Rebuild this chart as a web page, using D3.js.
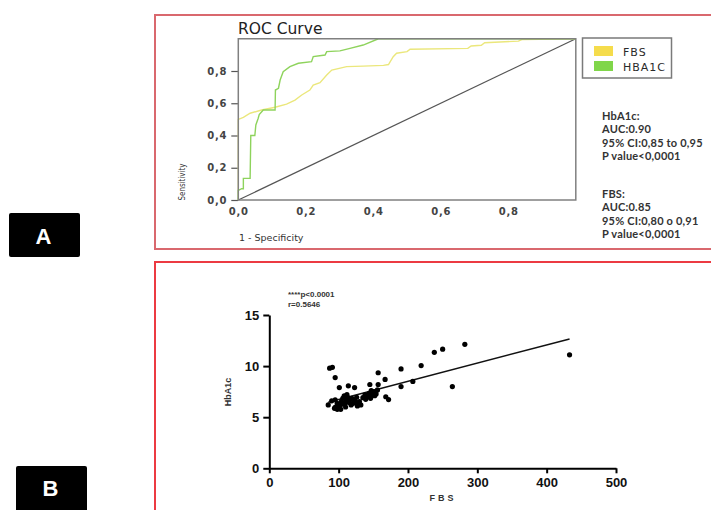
<!DOCTYPE html>
<html><head><meta charset="utf-8">
<script src="https://cdn.jsdelivr.net/npm/d3@7"></script>
<style>body{margin:0;background:#fff;} svg{display:block;}</style>
</head><body>
<svg id="c" width="711" height="510"></svg>
<script>
// ---------- Panel A: ROC data ----------
const rocTicks = [0, 0.2, 0.4, 0.6, 0.8];
const rocTickLabels = ["0,0", "0,2", "0,4", "0,6", "0,8"];
const rocSeries = ["FBS", "HBA1C"];
const rocColors = ["#f5dc4c", "#80d64a"];
const rocLineColors = ["#ebe77c", "#8ed35c"];
const fbsFpr = [0, 0, 0.015, 0.035, 0.069, 0.109, 0.143, 0.168, 0.188, 0.212, 0.222, 0.242, 0.262, 0.277, 0.321, 0.37, 0.43, 0.445, 0.459, 0.469, 0.50, 0.509, 0.68, 0.69, 0.72, 0.73, 0.83, 0.84, 1];
const fbsTpr = [0, 0.5, 0.513, 0.538, 0.558, 0.575, 0.595, 0.62, 0.651, 0.682, 0.713, 0.728, 0.775, 0.806, 0.827, 0.83, 0.835, 0.84, 0.889, 0.91, 0.92, 0.935, 0.94, 0.955, 0.96, 0.975, 0.985, 0.995, 1];
const hbaFpr = [0, 0, 0.01, 0.015, 0.015, 0.035, 0.037, 0.049, 0.052, 0.059, 0.062, 0.074, 0.109, 0.11, 0.119, 0.124, 0.133, 0.153, 0.178, 0.217, 0.222, 0.257, 0.262, 0.301, 0.331, 0.37, 0.415, 1];
const hbaTpr = [0, 0.06, 0.07, 0.07, 0.134, 0.134, 0.40, 0.40, 0.465, 0.507, 0.53, 0.558, 0.558, 0.682, 0.693, 0.744, 0.796, 0.827, 0.848, 0.858, 0.889, 0.899, 0.92, 0.925, 0.94, 0.961, 1, 1];
const statsHba = ["HbA1c:", "AUC:0.90", "95% CI:0,85 to 0,95", "P value<0,0001"];
const statsFbs = ["FBS:", "AUC:0.85", "95% CI:0,80 o 0,91", "P value<0,0001"];

// ---------- Panel B: scatter data ----------
const fbsValues = [87, 91, 95, 101, 114, 123, 145, 157, 157, 167, 168, 172, 190, 190, 207, 219, 238, 250, 282, 264, 433,
  85, 90, 95, 95, 98, 98, 102, 103, 104, 106, 108, 109, 111, 113, 115, 116, 119, 121, 123, 126, 127, 130, 135, 138, 139, 143, 144, 146, 149, 151, 154, 156,
  100, 105, 112, 118, 125, 132, 140, 147, 152, 110, 97, 94];
const hba1cValues = [9.8, 9.88, 8.88, 7.9, 8.07, 7.9, 8.2, 9.35, 8.2, 8.7, 7.0, 6.72, 9.72, 8.0, 8.5, 10.05, 11.35, 11.66, 12.13, 8.0, 11.1,
  6.2, 6.6, 6.7, 5.97, 6.36, 5.77, 6.1, 5.77, 6.53, 6.85, 7.08, 6.36, 6.69, 6.95, 6.43, 6.69, 6.85, 6.36, 6.69, 6.95, 6.1, 6.53, 6.91, 7.18, 6.75, 7.08, 7.34, 6.85, 7.18, 7.5, 7.28, 7.67,
  5.85, 6.3, 7.2, 6.2, 6.45, 6.2, 7.0, 7.6, 7.1, 6.0, 6.03, 5.87];
const fitIntercept = 4.95;
const fitSlope = 0.0178;
const fitRange = [85, 433];
const scatterXTicks = [0, 100, 200, 300, 400, 500];
const scatterYTicks = [0, 5, 10, 15];
const scatterNotes = ["****p<0.0001", "r=0.5646"];
const panelLabels = ["A", "B"];

const svg = d3.select("#c");
svg.append("rect").attr("width", 711).attr("height", 510).attr("fill", "#fff");

// panel frames
svg.append("rect").attr("x", 155).attr("y", 15).attr("width", 570).attr("height", 234)
  .attr("fill", "none").attr("stroke", "#d9686e").attr("stroke-width", 2);
svg.append("rect").attr("x", 155).attr("y", 262).attr("width", 570).attr("height", 270)
  .attr("fill", "none").attr("stroke", "#ec3a42").attr("stroke-width", 2);

// panel labels
const lab = [{x: 9, y: 213, w: 71, h: 44}, {x: 16, y: 466, w: 71, h: 50}];
panelLabels.forEach((t, i) => {
  const b = lab[i];
  svg.append("rect").attr("x", b.x).attr("y", b.y).attr("width", b.w).attr("height", b.h)
    .attr("rx", 2).attr("fill", "#000");
  svg.append("text").attr("x", b.x + b.w / 2 - 1).attr("y", i === 0 ? 244 : 496)
    .attr("text-anchor", "middle").attr("fill", "#fff")
    .attr("font-family", "Liberation Sans, Arial, sans-serif").attr("font-weight", "bold")
    .attr("font-size", 22).text(t);
});

// ---------- ROC ----------
const rx = d3.scaleLinear().domain([0, 1]).range([238.3, 575.8]);
const ry = d3.scaleLinear().domain([0, 1]).range([200, 38.75]);

svg.append("text").attr("x", 238).attr("y", 34)
  .attr("font-family", "DejaVu Sans, Verdana, sans-serif").attr("font-size", 15.5)
  .attr("fill", "#222").text("ROC Curve");

const yAx = svg.append("g").attr("transform", `translate(${rx(0)},0)`)
  .call(d3.axisLeft(ry).tickValues(rocTicks).tickSize(7).tickPadding(4)
    .tickFormat((d, i) => rocTickLabels[i]));
yAx.select(".domain").remove();
yAx.selectAll("line").attr("stroke", "#555").attr("stroke-width", 1.2);
yAx.selectAll("text").attr("font-family", "DejaVu Sans, Verdana, sans-serif")
  .attr("font-weight", "bold").attr("font-size", 10).attr("letter-spacing", 0.8).attr("fill", "#444");

const xAx = svg.append("g").attr("transform", `translate(0,${ry(0)})`)
  .call(d3.axisBottom(rx).tickValues(rocTicks).tickSize(0).tickPadding(8)
    .tickFormat((d, i) => rocTickLabels[i]));
xAx.select(".domain").remove();
xAx.selectAll("text").attr("font-family", "DejaVu Sans, Verdana, sans-serif")
  .attr("font-weight", "bold").attr("font-size", 10).attr("letter-spacing", 0.8).attr("fill", "#444");

svg.append("text").attr("x", 239).attr("y", 241)
  .attr("font-family", "DejaVu Sans, Verdana, sans-serif").attr("font-size", 9.5)
  .attr("fill", "#333").text("1 - Specificity");
svg.append("text").attr("transform", `translate(185,182) rotate(-90)`)
  .attr("text-anchor", "middle").attr("font-family", "DejaVu Sans Condensed, DejaVu Sans, sans-serif")
  .attr("font-size", 8.5).attr("fill", "#333").attr("textLength", 37).attr("lengthAdjust", "spacingAndGlyphs")
  .text("Sensitivity");

// diagonal
svg.append("line").attr("x1", rx(0)).attr("y1", ry(0)).attr("x2", rx(1)).attr("y2", ry(1))
  .attr("stroke", "#555").attr("stroke-width", 1.2);

const rocLine = d3.line().x(d => rx(d[0])).y(d => ry(d[1]));
const fbsPts = fbsFpr.map((f, i) => [f, fbsTpr[i]]);
const hbaPts = hbaFpr.map((f, i) => [f, hbaTpr[i]]);
svg.append("path").attr("d", rocLine(fbsPts)).attr("fill", "none")
  .attr("stroke", rocLineColors[0]).attr("stroke-width", 1.4);
svg.append("path").attr("d", rocLine(hbaPts)).attr("fill", "none")
  .attr("stroke", rocLineColors[1]).attr("stroke-width", 1.4);

// plot box
svg.append("rect").attr("x", rx(0)).attr("y", ry(1)).attr("width", rx(1) - rx(0)).attr("height", ry(0) - ry(1))
  .attr("fill", "none").attr("stroke", "#808080").attr("stroke-width", 1.5);

// legend
svg.append("rect").attr("x", 582.5).attr("y", 38).attr("width", 89).attr("height", 40)
  .attr("fill", "#fff").attr("stroke", "#7a7a7a").attr("stroke-width", 1.5);
rocSeries.forEach((s, i) => {
  svg.append("rect").attr("x", 594).attr("y", 46 + i * 15).attr("width", 19).attr("height", 10)
    .attr("fill", rocColors[i]);
  svg.append("text").attr("x", 623).attr("y", 55.5 + i * 15)
    .attr("font-family", "DejaVu Sans, Verdana, sans-serif").attr("font-size", 11)
    .attr("letter-spacing", 1).attr("fill", "#2a2a2a").text(s);
});

// stats
[[statsHba, 120], [statsFbs, 198]].forEach(([lines, y0]) => {
  lines.forEach((t, i) => {
    svg.append("text").attr("x", 602).attr("y", y0 + i * 13.3)
      .attr("font-family", "Lato, Open Sans, sans-serif").attr("font-weight", "bold")
      .attr("font-size", 11).attr("letter-spacing", 0.2).attr("fill", "#333").text(t);
  });
});

// ---------- Scatter ----------
const sx = d3.scaleLinear().domain([0, 500]).range([269.3, 616]);
const sy = d3.scaleLinear().domain([0, 15]).range([468.3, 315]);

const sxAx = svg.append("g").attr("transform", `translate(0,${sy(0)})`)
  .call(d3.axisBottom(sx).tickValues(scatterXTicks).tickSize(5).tickPadding(4).tickSizeOuter(0));
const syAx = svg.append("g").attr("transform", `translate(${sx(0)},0)`)
  .call(d3.axisLeft(sy).tickValues(scatterYTicks).tickSize(6).tickPadding(4).tickSizeOuter(0));
[sxAx, syAx].forEach(a => {
  a.select(".domain").attr("stroke", "#000").attr("stroke-width", 2);
  a.selectAll("line").attr("stroke", "#000").attr("stroke-width", 2);
  a.selectAll("text").attr("font-family", "Liberation Sans, Arial, sans-serif")
    .attr("font-weight", "bold").attr("font-size", 13).attr("fill", "#111");
});

svg.append("text").attr("x", 443).attr("y", 501).attr("text-anchor", "middle")
  .attr("font-family", "Liberation Sans, Arial, sans-serif").attr("font-weight", "bold")
  .attr("font-size", 9).attr("letter-spacing", 3).attr("fill", "#333").text("FBS");
svg.append("text").attr("transform", `translate(231,392) rotate(-90)`).attr("text-anchor", "middle")
  .attr("font-family", "Liberation Sans, Arial, sans-serif").attr("font-weight", "bold")
  .attr("font-size", 9).attr("fill", "#333").text("HbA1c");

scatterNotes.forEach((t, i) => {
  svg.append("text").attr("x", 288).attr("y", 297 + i * 10)
    .attr("font-family", "Liberation Sans, Arial, sans-serif").attr("font-weight", "bold")
    .attr("font-size", 8).attr("fill", "#333").text(t);
});

svg.append("line")
  .attr("x1", sx(fitRange[0])).attr("y1", sy(fitIntercept + fitSlope * fitRange[0]))
  .attr("x2", sx(fitRange[1])).attr("y2", sy(fitIntercept + fitSlope * fitRange[1]))
  .attr("stroke", "#111").attr("stroke-width", 1.5);

svg.append("g").selectAll("circle").data(fbsValues.map((v, i) => [v, hba1cValues[i]]))
  .join("circle").attr("cx", d => sx(d[0])).attr("cy", d => sy(d[1])).attr("r", 2.6)
  .attr("fill", "#000");
</script>
</body></html>
